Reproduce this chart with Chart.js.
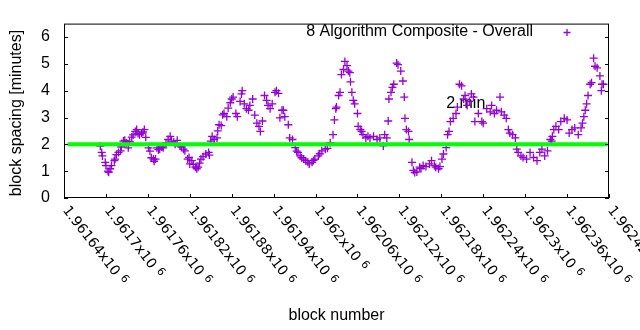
<!DOCTYPE html>
<html>
<head>
<meta charset="utf-8">
<script src="https://cdn.jsdelivr.net/npm/chart.js@4"></script>
<style>
  body{margin:0;background:#fff;}
  #wrap{width:640px;height:330px;}
</style>
</head>
<body>
<div id="wrap"><canvas id="grafica" width="640" height="330"></canvas></div>
<script>
var serieNombre = "8 Algorithm Composite - Overall";
var bloques = [1961692,1961694,1961695,1961699,1961700,1961703,1961704,1961706,1961708,1961712,
  1961713,1961715,1961718,1961721,1961722,1961725,1961727,1961729,1961732,1961734,
  1961737,1961739,1961742,1961744,1961746,1961748,1961751,1961753,1961755,1961757,
  1961761,1961763,1961765,1961768,1961769,1961771,1961773,1961775,1961777,1961780,
  1961782,1961786,1961789,1961792,1961794,1961797,1961799,1961802,1961806,1961808,
  1961811,1961813,1961817,1961819,1961820,1961823,1961825,1961828,1961830,1961832,
  1961834,1961836,1961839,1961843,1961847,1961848,1961850,1961852,1961855,1961859,
  1961860,1961862,1961865,1961867,1961869,1961873,1961875,1961878,1961880,1961882,
  1961886,1961888,1961892,1961894,1961895,1961898,1961901,1961904,1961906,1961910,
  1961913,1961916,1961919,1961921,1961924,1961927,1961930,1961932,1961935,1961938,
  1961942,1961944,1961947,1961949,1961952,1961954,1961956,1961961,1961963,1961967,
  1961971,1961973,1961975,1961978,1961980,1961983,1961986,1961989,1961991,1961995,
  1961997,1961999,1962004,1962006,1962009,1962014,1962017,1962021,1962025,1962027,
  1962029,1962030,1962033,1962035,1962037,1962040,1962042,1962045,1962047,1962049,
  1962050,1962052,1962054,1962056,1962060,1962061,1962064,1962066,1962068,1962072,
  1962075,1962078,1962083,1962088,1962092,1962097,1962099,1962102,1962104,1962105,
  1962108,1962110,1962112,1962116,1962118,1962122,1962125,1962127,1962128,1962130,
  1962133,1962134,1962138,1962140,1962142,1962145,1962149,1962151,1962154,1962158,
  1962163,1962166,1962170,1962172,1962176,1962178,1962181,1962183,1962187,1962189,
  1962191,1962193,1962197,1962201,1962203,1962206,1962209,1962212,1962214,1962217,
  1962220,1962223,1962226,1962228,1962233,1962238,1962240,1962245,1962250,1962252,
  1962256,1962259,1962264,1962266,1962270,1962273,1962276,1962278,1962282,1962286,
  1962288,1962290,1962294,1962297,1962302,1962307,1962312,1962317,1962321,1962324,
  1962328,1962332,1962336,1962338,1962339,1962341,1962344,1962348,1962351,1962356,
  1962360,1962363,1962367,1962371,1962376,1962380,1962382,1962384,1962386,1962388,
  1962390,1962393,1962395,1962398,1962400,1962403,1962407,1962409,1962410,1962412];
var espaciado = [1.93,1.70,1.57,1.33,1.21,1.00,0.96,1.09,1.21,1.39,
  1.45,1.62,1.70,1.76,1.90,2.12,2.15,2.05,1.87,2.10,
  2.27,2.35,2.48,2.55,2.40,2.36,2.42,2.46,2.55,2.26,
  1.87,1.75,1.50,1.45,1.37,1.45,1.87,1.80,1.82,1.90,
  1.87,2.05,2.18,2.30,2.12,2.08,2.00,2.15,1.94,1.90,
  1.82,1.76,1.45,1.51,1.27,1.39,1.25,1.15,1.09,1.15,
  1.30,1.45,1.54,1.64,1.70,1.60,2.12,2.30,2.18,2.24,
  2.50,2.73,2.70,3.10,3.15,3.03,3.35,3.55,3.69,3.76,
  3.15,3.03,3.60,3.88,4.00,3.51,3.33,3.27,3.45,3.69,
  3.09,2.79,2.67,2.48,2.87,3.82,3.64,3.45,3.33,3.51,
  3.94,4.00,3.90,2.99,3.27,3.27,3.03,2.73,2.24,2.18,
  1.88,1.75,1.70,1.57,1.50,1.45,1.39,1.33,1.27,1.33,
  1.40,1.45,1.57,1.65,1.76,1.82,1.85,2.06,2.36,2.91,
  3.33,3.39,3.82,3.94,4.60,4.79,5.09,4.93,4.73,4.67,
  4.33,3.94,3.64,3.51,3.15,2.67,2.55,2.48,2.36,2.24,
  2.30,2.24,2.30,2.18,2.24,1.94,2.36,2.24,2.87,3.69,
  3.94,4.12,4.24,5.03,4.97,4.73,4.36,3.76,2.97,2.55,
  2.48,2.18,1.33,1.03,0.95,0.97,1.15,1.10,1.21,1.17,
  1.27,1.39,1.21,1.15,1.09,1.17,1.45,1.64,1.88,2.36,
  2.48,2.85,2.97,3.15,3.39,4.24,4.18,3.69,3.82,3.45,
  3.60,3.88,3.76,2.85,3.15,2.85,2.79,3.33,3.21,3.45,
  3.15,3.27,3.76,3.21,3.09,2.97,2.55,2.42,2.36,2.24,
  1.82,1.70,1.57,1.51,1.45,1.70,1.51,1.39,1.70,1.82,
  1.57,1.76,2.18,2.12,2.30,2.55,2.67,2.55,2.85,2.97,
  2.91,2.42,2.55,2.61,2.36,2.61,2.79,3.03,3.27,3.51,
  3.82,4.24,4.30,5.21,4.91,4.85,4.55,4.00,4.24,4.24];
var lineaBloques = [1961645, 1962418];
var lineaValores = [2, 2];
var lineaTexto = "2 min";
var lineaTextoPos = [1962187, 3.5];
var xMin = 1961640, xMax = 1962420, xPaso = 60;
var yMin = 0, yMax = 6.5, yPaso = 1;

var morado = "#9400d3";
var fuente = "'Liberation Sans', Arial, sans-serif";

var puntos = [];
for (var i = 0; i < bloques.length; i++) {
  puntos.push({x: bloques[i], y: espaciado[i]});
}
var linea = [];
for (var j = 0; j < lineaBloques.length; j++) {
  linea.push({x: lineaBloques[j], y: lineaValores[j]});
}

function etiquetaX(v){
  return Number((v / 1e6).toFixed(5)).toString();
}

var extras = {
  id: "extras",
  beforeDatasetsDraw: function(chart){
    var ctx = chart.ctx;
    ctx.save();
    ctx.font = "16px " + fuente;
    ctx.fillStyle = "#000";
    ctx.textAlign = "left";
    ctx.textBaseline = "middle";
    ctx.fillText(lineaTexto, chart.scales.x.getPixelForValue(lineaTextoPos[0]), chart.scales.y.getPixelForValue(lineaTextoPos[1]));
    ctx.restore();
  },
  afterDatasetsDraw: function(chart){
    var ctx = chart.ctx;
    var a = chart.chartArea;
    var sx = chart.scales.x, sy = chart.scales.y;
    var tic = 4;
    ctx.save();
    ctx.strokeStyle = "#000";
    ctx.lineWidth = 1;
    ctx.strokeRect(a.left + 0.5, a.top + 0.5, a.right - a.left - 1, a.bottom - a.top - 1);
    ctx.beginPath();
    sy.ticks.forEach(function(t){
      var py = Math.round(sy.getPixelForValue(t.value)) + 0.5;
      ctx.moveTo(a.left, py); ctx.lineTo(a.left + tic, py);
      ctx.moveTo(a.right, py); ctx.lineTo(a.right - tic, py);
    });
    sx.ticks.forEach(function(t){
      var px = Math.round(sx.getPixelForValue(t.value)) + 0.5;
      ctx.moveTo(px, a.bottom); ctx.lineTo(px, a.bottom - tic);
    });
    ctx.stroke();

    // etiquetas del eje x giradas hacia abajo
    ctx.fillStyle = "#000";
    ctx.textBaseline = "middle";
    ctx.textAlign = "left";
    sx.ticks.forEach(function(t){
      var px = sx.getPixelForValue(t.value);
      ctx.save();
      ctx.translate(px + 1, a.bottom + 10);
      ctx.rotate(52 * Math.PI / 180);
      ctx.font = "14px 'DejaVu Sans', sans-serif";
      var txt = etiquetaX(t.value) + "x10";
      ctx.fillText(txt, 0, 0);
      var w = ctx.measureText(txt).width;
      ctx.font = "11px 'DejaVu Sans', sans-serif";
      ctx.fillText("6", w + 5, -3);
      ctx.restore();
    });

    ctx.font = "16px " + fuente;
    ctx.textAlign = "center";
    ctx.textBaseline = "middle";
    ctx.fillText("block number", (a.left + a.right) / 2, 316);
    ctx.save();
    ctx.translate(17, 113);
    ctx.rotate(-Math.PI / 2);
    ctx.fillText("block spacing [minutes]", 0, 0);
    ctx.restore();

    // leyenda
    ctx.textAlign = "right";
    ctx.fillText(serieNombre, 533, 32);
    ctx.strokeStyle = morado;
    ctx.lineWidth = 1.3;
    ctx.beginPath();
    ctx.moveTo(563.5, 32.5); ctx.lineTo(570.5, 32.5);
    ctx.moveTo(567, 29); ctx.lineTo(567, 36);
    ctx.stroke();
    ctx.restore();
  }
};

var ctx = document.getElementById("grafica").getContext("2d");
var chart = new Chart(ctx, {
  type: "scatter",
  data: {
    datasets: [{
      type: "line",
      label: lineaTexto,
      data: linea,
      borderColor: "#00ff00",
      borderWidth: 4,
      pointRadius: 0,
      fill: false
    }, {
      label: serieNombre,
      data: puntos,
      pointStyle: "cross",
      pointRadius: 4,
      pointBorderWidth: 1.3,
      borderColor: morado,
      backgroundColor: morado
    }]
  },
  options: {
    responsive: false,
    animation: false,
    events: [],
    layout: {padding: {left: 0, top: 19, right: 31, bottom: 0}},
    plugins: {legend: {display: false}, tooltip: {enabled: false}},
    scales: {
      x: {
        type: "linear",
        min: xMin, max: xMax,
        grid: {display: false},
        border: {display: false},
        ticks: {display: false, stepSize: xPaso},
        afterFit: function(s){ s.height = 132; }
      },
      y: {
        min: yMin, max: yMax,
        grid: {display: false, drawTicks: false},
        border: {display: false},
        ticks: {stepSize: yPaso, includeBounds: false, padding: 14, color: "#000", font: {family: fuente, size: 16}},
        afterFit: function(s){ s.width = 64; }
      }
    }
  },
  plugins: [extras]
});
</script>
</body>
</html>
